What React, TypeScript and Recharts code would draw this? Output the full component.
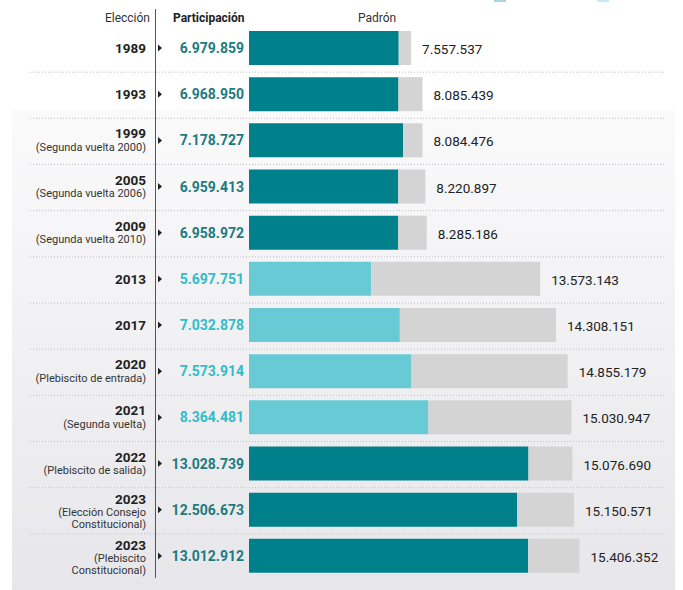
import { Bar, BarChart, Cell, LabelList, XAxis, YAxis } from "recharts";

const ELECCIONES = ["1989", "1993", "1999", "2005", "2009", "2013", "2017", "2020", "2021", "2022", "2023", "2023"];

const SUBTITULOS: string[][] = [
  [],
  [],
  ["(Segunda vuelta 2000)"],
  ["(Segunda vuelta 2006)"],
  ["(Segunda vuelta 2010)"],
  [],
  [],
  ["(Plebiscito de entrada)"],
  ["(Segunda vuelta)"],
  ["(Plebiscito de salida)"],
  ["(Elección Consejo", "Constitucional)"],
  ["(Plebiscito", "Constitucional)"],
];

const PARTICIPACION = [
  6979859, 6968950, 7178727, 6959413, 6958972, 5697751, 7032878, 7573914, 8364481, 13028739, 12506673, 13012912,
];

const PADRON = [
  7557537, 8085439, 8084476, 8220897, 8285186, 13573143, 14308151, 14855179, 15030947, 15076690, 15150571, 15406352,
];

// 2013-2021: voto voluntario
const VOLUNTARIO = [false, false, false, false, false, true, true, true, true, false, false, false];

const TEAL = "#00808b";
const CYAN = "#67cad4";
const GRIS = "#d4d4d4";
const TEAL_TXT = "#1d7a80";
const CYAN_TXT = "#2fbdc9";
const FONT = "Roboto, 'Noto Sans', sans-serif";

const BAND = 46.18;

const fmt = (n: number) => String(n).replace(/\B(?=(\d{3})+(?!\d))/g, ".");

const data = ELECCIONES.map((e, i) => ({
  id: String(i),
  eleccion: e,
  participacion: PARTICIPACION[i],
  resto: PADRON[i] - PARTICIPACION[i],
  padron: PADRON[i],
}));

function EleccionTick(props: any) {
  const { y, payload } = props;
  const i = Number(payload.value);
  const subs = SUBTITULOS[i];
  const yearDy = subs.length === 0 ? 0 : subs.length === 1 ? -7 : -11;
  return (
    <g>
      {i > 0 && (
        <line
          x1={30}
          x2={666}
          y1={y - BAND / 2 + 1}
          y2={y - BAND / 2 + 1}
          stroke="#bdbdc2"
          strokeWidth={1}
          strokeDasharray="1 2"
        />
      )}
      <text
        x={146}
        y={y + yearDy}
        textAnchor="end"
        dominantBaseline="central"
        fontFamily={FONT}
        fontWeight={700}
        fontSize={13.5}
        fill="#222"
      >
        {ELECCIONES[i]}
      </text>
      {subs.map((s, k) => (
        <text
          key={k}
          x={146}
          y={y + yearDy + 14 + k * 11.5}
          textAnchor="end"
          dominantBaseline="central"
          fontFamily={FONT}
          fontSize={11}
          fill="#333"
        >
          {s}
        </text>
      ))}
      <polygon points={`${158},${y - 3.5} ${162},${y} ${158},${y + 3.5}`} fill="#222" />
    </g>
  );
}

function ParticipacionLabel(props: any) {
  const { x, y, height, value, index } = props;
  const i = typeof index === "number" ? index : PARTICIPACION.indexOf(value);
  return (
    <text
      x={x - 5}
      y={y + height / 2}
      textAnchor="end"
      dominantBaseline="central"
      fontFamily={FONT}
      fontWeight={700}
      fontSize={14}
      fill={VOLUNTARIO[i] ? CYAN_TXT : TEAL_TXT}
    >
      {fmt(value)}
    </text>
  );
}

function PadronLabel(props: any) {
  const { x, y, width, height, value } = props;
  return (
    <text
      x={x + width + 11}
      y={y + height / 2 + 1}
      dominantBaseline="central"
      fontFamily={FONT}
      fontSize={13.5}
      fill="#222"
    >
      {fmt(value)}
    </text>
  );
}

export default function App() {
  return (
    <div style={{ position: "absolute", left: 0, top: 0, width: 683, height: 590, background: "#fff", overflow: "hidden" }}>
      <div
        style={{
          position: "absolute",
          left: 12,
          top: 110,
          width: 663,
          height: 480,
          background: "linear-gradient(#fafafb, #e7e7eb)",
        }}
      />
      <div style={{ position: "absolute", left: 155, top: 9, width: 1, height: 569, background: "#555" }} />
      <div style={{ position: "absolute", left: 494, top: -10, width: 12, height: 12, background: "#a9d8dc" }} />
      <div style={{ position: "absolute", left: 597, top: -10, width: 12, height: 12, background: "#c7ecef" }} />
      <div
        style={{
          position: "absolute",
          right: 683 - 150,
          top: 11,
          fontFamily: FONT,
          fontSize: 12,
          color: "#333",
        }}
      >
        Elección
      </div>
      <div
        style={{
          position: "absolute",
          left: 173,
          top: 11,
          fontFamily: FONT,
          fontSize: 12,
          fontWeight: 700,
          color: "#222",
        }}
      >
        Participación
      </div>
      <div style={{ position: "absolute", left: 358, top: 11, fontFamily: FONT, fontSize: 12, color: "#333" }}>
        Padrón
      </div>
      <div style={{ position: "absolute", left: 0, top: 0 }}>
        <BarChart
          width={683}
          height={590}
          data={data}
          layout="vertical"
          margin={{ top: 25, right: 5, left: 0, bottom: 11 }}
          barSize={34}
        >
          <XAxis type="number" domain={[0, 20000000]} hide />
          <YAxis
            type="category"
            dataKey="id"
            width={249}
            interval={0}
            tickLine={false}
            axisLine={false}
            tick={<EleccionTick />}
          />
          <Bar dataKey="participacion" stackId="p" isAnimationActive={false}>
            {data.map((d, i) => (
              <Cell key={d.id} fill={VOLUNTARIO[i] ? CYAN : TEAL} />
            ))}
            <LabelList dataKey="participacion" content={<ParticipacionLabel />} />
          </Bar>
          <Bar dataKey="resto" stackId="p" fill={GRIS} isAnimationActive={false}>
            <LabelList dataKey="padron" content={<PadronLabel />} />
          </Bar>
        </BarChart>
      </div>
    </div>
  );
}
